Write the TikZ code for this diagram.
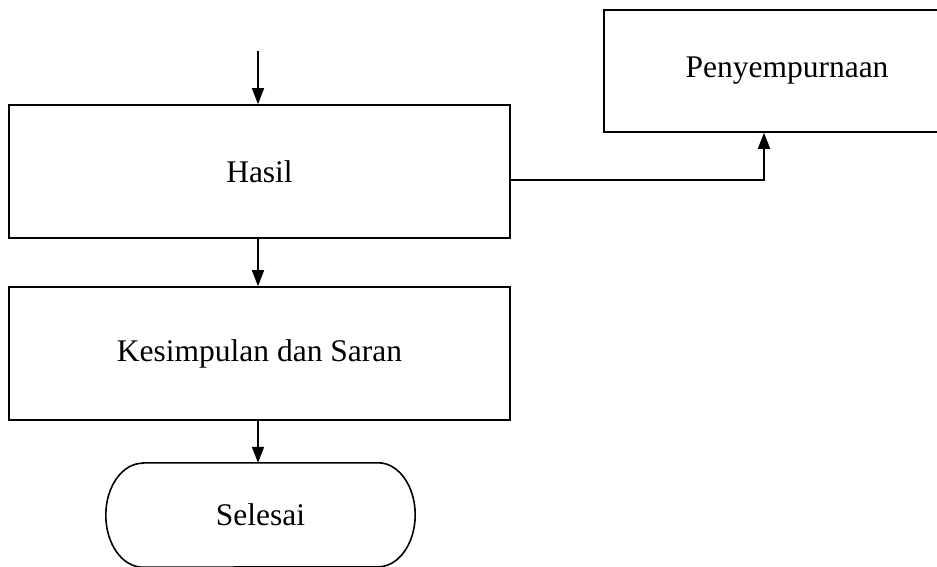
\documentclass[tikz,border=0pt]{standalone}
\usepackage{fontspec}
\setmainfont{Liberation Serif}
\usetikzlibrary{arrows.meta,calc}
\begin{document}
\begin{tikzpicture}[x=1pt,y=1pt,
  box/.style={draw,line width=1.6pt,minimum width=#1,minimum height=133pt,inner sep=0pt,font=\fontsize{31.5}{36}\selectfont},
  conn/.style={line width=1.6pt,-{Triangle[length=16pt,width=12pt]}},
  plain/.style={line width=1.6pt}]
\useasboundingbox (0,0) rectangle (937,-567);
\fill[white] (0,0) rectangle (937,-567);
\node[box=501pt] (hasil) at (259.5,-171.5) {Hasil};
\node[box=366pt,minimum height=122pt] (peny) at (787,-71) {Penyempurnaan};
\node[box=501pt] (kes) at (259.5,-353.5) {Kesimpulan dan Saran};
\node[inner sep=0pt,minimum width=309pt,minimum height=104pt,font=\fontsize{31.5}{36}\selectfont] (sel) at (260.5,-515) {Selesai};
\draw[plain] ($(sel.north west)+(37,0)$) -- ($(sel.north east)+(-37,0)$)
  arc[start angle=90,end angle=-90,x radius=37,y radius=52]
  -- ($(sel.south west)+(37,0)$)
  arc[start angle=270,end angle=90,x radius=37,y radius=52] -- cycle;
\coordinate (start) at (258,-51);
\draw[conn] (start) -- (start |- hasil.north);
\draw[conn] (hasil.south -| start) -- (kes.north -| start);
\draw[conn] (kes.south -| start) -- (sel.north -| start);
\coordinate (hr) at (hasil.east |- 0,-180);
\coordinate (bend) at (764,-180);
\draw[conn] (hr) -- (bend) -- (bend |- peny.south);
\end{tikzpicture}
\end{document}
